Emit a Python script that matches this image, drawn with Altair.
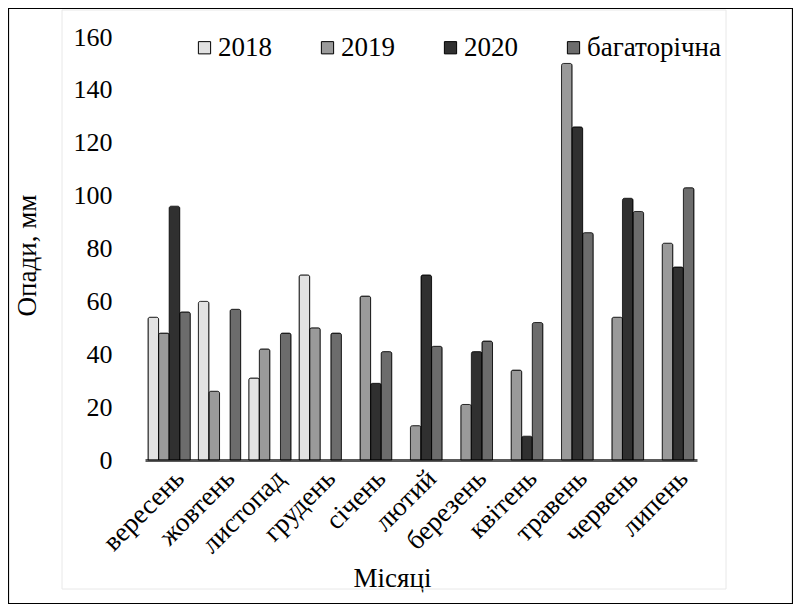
import altair as alt
import pandas as pd

months = ["вересень", "жовтень", "листопад", "грудень", "січень", "лютий",
          "березень", "квітень", "травень", "червень", "липень"]
series_names = ["2018", "2019", "2020", "багаторічна"]
v2018 = [54, 60, 31, 70, None, None, None, None, None, None, None]
v2019 = [48, 26, 42, 50, 62, 13, 21, 34, 150, 54, 82]
v2020 = [96, None, None, None, 29, 70, 41, 9, 126, 99, 73]
v_norm = [56, 57, 48, 48, 41, 43, 45, 52, 86, 94, 103]
y_ticks = [0, 20, 40, 60, 80, 100, 120, 140, 160]
colors = ["#e2e2e2", "#9a9a9a", "#303030", "#6c6c6c"]

rows = []
for name, vals in zip(series_names, [v2018, v2019, v2020, v_norm]):
    for m, v in zip(months, vals):
        if v is not None:
            rows.append({"month": m, "series": name, "value": v})
df = pd.DataFrame(rows)

FONT = "'Liberation Serif', 'Times New Roman', 'DejaVu Serif', serif"

bars = alt.Chart(df).mark_bar(
    stroke="black", strokeWidth=0.8, cornerRadiusTopLeft=2, cornerRadiusTopRight=2
).encode(
    x=alt.X("month:N", sort=months,
            scale=alt.Scale(paddingInner=0.16, paddingOuter=0.06),
            axis=alt.Axis(title="Місяці", labelAngle=-45, labelAlign="right",
                          labelBaseline="middle", labelOffset=11, labelPadding=14,
                          labelFont=FONT, labelFontSize=27, labelColor="black",
                          ticks=False, domainColor="#5a5a5a", domainWidth=3,
                          titleFont=FONT, titleFontSize=27, titleFontWeight="normal",
                          titleColor="black", titleX=247, titleY=118,
                          titleAlign="center", titleBaseline="middle")),
    xOffset=alt.XOffset("series:N", sort=series_names,
                        scale=alt.Scale(domain=series_names, paddingInner=0, paddingOuter=0)),
    y=alt.Y("value:Q", scale=alt.Scale(domain=[0, 160], nice=False),
            axis=alt.Axis(title="Опади, мм", values=y_ticks, domain=False, ticks=False,
                          grid=False, labelFont=FONT, labelFontSize=26, labelColor="black",
                          labelPadding=33, titleFont=FONT, titleFontSize=27,
                          titleFontWeight="normal", titleColor="black", titleAngle=270,
                          titleX=-118, titleY=218, titleAlign="center",
                          titleBaseline="middle")),
    color=alt.Color("series:N", sort=series_names,
                    scale=alt.Scale(domain=series_names, range=colors),
                    legend=alt.Legend(title=None, orient="none", legendX=46, legendY=-3,
                                      direction="horizontal", columns=4,
                                      symbolType="square", symbolSize=150,
                                      symbolStrokeColor="black", symbolStrokeWidth=1,
                                      symbolOpacity=1,
                                      labelFont=FONT, labelFontSize=27, labelColor="black",
                                      labelOffset=0, columnPadding=42)),
)

frame_df = pd.DataFrame({"k": [0]})
outer = alt.Chart(frame_df).mark_rect(fill="transparent", stroke="black", strokeWidth=1.2).encode(
    x=alt.value(-136.5), x2=alt.value(647.5), y=alt.value(-28.5), y2=alt.value(566.5))
inner = alt.Chart(frame_df).mark_rect(fill="transparent", stroke="#e8e8e8", strokeWidth=1).encode(
    x=alt.value(-83), x2=alt.value(581), y=alt.value(-27), y2=alt.value(552))

chart = alt.layer(outer, inner, bars).properties(
    width=552, height=423, autosize="none",
    padding={"left": 137, "top": 29, "right": 96, "bottom": 144},
    background="white",
).configure_view(strokeWidth=0).configure_legend(labelFont=FONT)

chart.save("out.html", embed_options={"renderer": "svg", "actions": False})
